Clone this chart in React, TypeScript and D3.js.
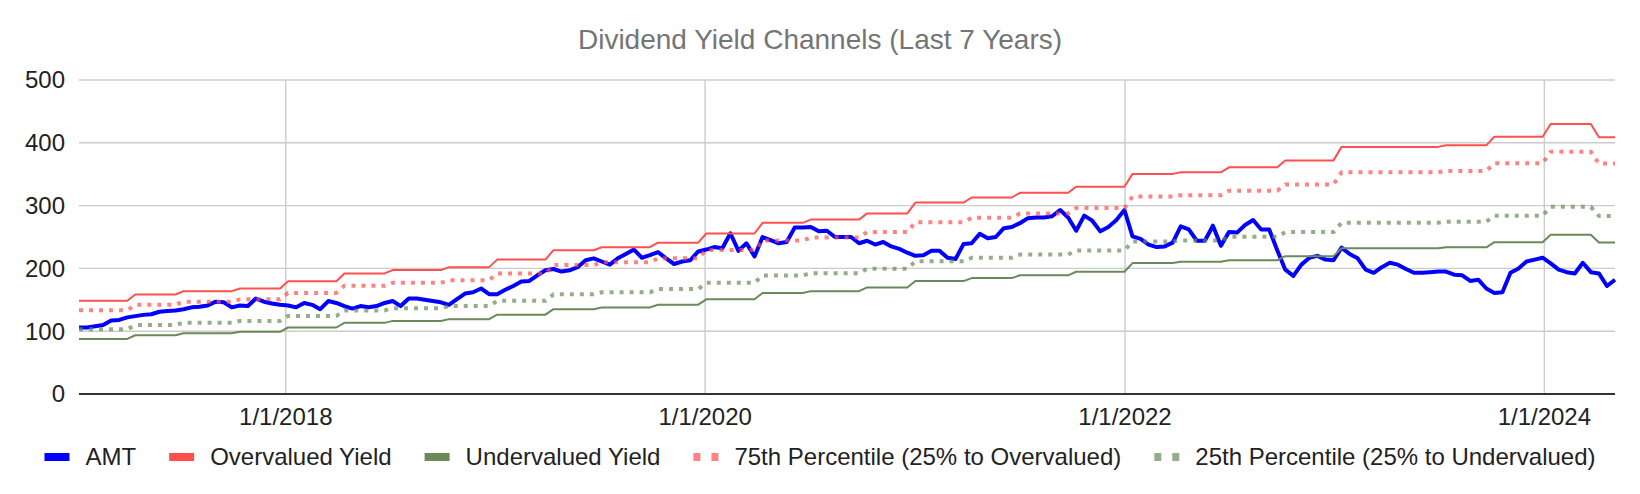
import { useEffect, useRef } from 'react';
import * as d3 from 'd3';

// AMT price, one close every two weeks starting on this date
const startDate = '2017-01-06';
const amt2017 = [106, 106, 108, 110, 117, 118, 122, 124, 126, 127, 131, 132, 133, 135, 138, 139, 141, 147, 146, 138, 141, 140, 152, 147, 144, 142];
const amt2018 = [141, 138, 145, 142, 135, 148, 145, 140, 136, 140, 138, 140, 145, 148, 140, 152, 152, 150, 148, 146, 142, 151, 160, 162, 168, 159];
const amt2019 = [159, 166, 172, 179, 180, 189, 197, 199, 195, 197, 202, 213, 216, 211, 206, 216, 223, 230, 217, 221, 226, 216, 207, 211, 213, 227];
const amt2020 = [230, 234, 232, 256, 228, 240, 219, 250, 245, 240, 242, 265, 265, 266, 259, 260, 250, 250, 250, 240, 244, 238, 242, 235, 231, 225];
const amt2021 = [220, 221, 228, 228, 217, 215, 239, 240, 255, 248, 250, 264, 266, 272, 280, 281, 281, 283, 293, 281, 260, 284, 276, 259, 266, 277, 293];
const amt2022 = [251, 247, 238, 234, 235, 241, 267, 262, 244, 244, 268, 236, 258, 257, 269, 277, 262, 262, 229, 198, 188, 206, 217, 220, 214, 213];
const amt2023 = [233, 223, 216, 198, 193, 202, 209, 206, 199, 193, 193, 194, 195, 195, 190, 189, 180, 182, 168, 161, 162, 193, 200, 211, 214, 217];
const amt2024 = [208, 198, 194, 192, 209, 194, 192, 172, 182];
const amtValues = [...amt2017, ...amt2018, ...amt2019, ...amt2020, ...amt2021, ...amt2022, ...amt2023, ...amt2024];

// channel levels, each one holds from its date until the next
const stepDates = [
  '2017-01-06', '2017-04-14', '2017-07-07', '2017-10-13', '2018-01-05', '2018-04-13', '2018-07-06', '2018-10-12',
  '2019-01-04', '2019-04-12', '2019-07-05', '2019-10-11', '2020-01-03', '2020-04-10', '2020-07-03', '2020-10-09',
  '2021-01-01', '2021-04-09', '2021-07-02', '2021-10-08', '2022-01-14', '2022-04-08', '2022-07-01', '2022-10-07',
  '2023-01-13', '2023-07-14', '2023-10-06', '2024-01-12', '2024-04-05',
];
const overvalued = [148.6, 158.4, 163.8, 168, 179.5, 192, 197.3, 202, 214, 229, 233.7, 241, 255.6, 272.5, 277.7, 287.6, 304.8, 312.9, 320.4, 330, 350.5, 353, 361, 372, 393.5, 396, 409.7, 430, 409];
const undervalued = [87.7, 93.5, 96.6, 99.1, 105.9, 113.3, 116.4, 119.2, 126.3, 135.1, 137.9, 142.2, 150.8, 160.8, 163.8, 169.7, 179.8, 184.6, 189, 194.7, 208.5, 210.5, 213, 219.5, 232.2, 233.6, 241.7, 253.7, 241.3];
const pct75 = [133.3, 142.1, 146.9, 150.7, 161, 172.2, 177, 181.2, 192, 205.4, 209.6, 216.2, 229.3, 244.4, 249.1, 258, 273.4, 280.7, 287.4, 296, 314.4, 316.6, 323.8, 333.7, 353, 355.2, 367.5, 385.7, 366.9];
const pct25 = [103, 109.8, 113.5, 116.4, 124.4, 133.1, 136.7, 140, 148.3, 158.7, 162, 167, 177.1, 188.8, 192.4, 199.3, 211.2, 216.8, 222, 228.7, 242.9, 244.6, 250.2, 257.8, 272.7, 274.4, 283.9, 298, 283.4];

const yTicks = [0, 100, 200, 300, 400, 500];
const xTicks = ['2018-01-01', '2020-01-01', '2022-01-01', '2024-01-01'];

const width = 1640;
const height = 494;
const font = 'Arial, "Liberation Sans", sans-serif';

export default function App() {
  const svgRef = useRef<SVGSVGElement>(null);

  useEffect(() => {
    if (!svgRef.current) return;
    const svg = d3.select(svgRef.current);
    svg.selectAll('*').remove();

    const parse = d3.timeParse('%Y-%m-%d');
    const start = parse(startDate)!;
    const dates = amtValues.map((_, i) => d3.timeDay.offset(start, i * 14));
    const steps = stepDates.map(s => parse(s)!);
    const levelAt = (d: Date) => d3.bisectRight(steps, d) - 1;

    const x = d3.scaleTime()
      .domain([dates[0], dates[dates.length - 1]])
      .range([79, 1615]);
    const y = d3.scaleLinear().domain([0, 500]).range([394, 80]);

    svg.append('rect').attr('width', width).attr('height', height).attr('fill', '#fff');

    svg.append('text')
      .attr('x', width / 2)
      .attr('y', 48.5)
      .attr('text-anchor', 'middle')
      .style('font-family', font)
      .style('font-size', '28px')
      .style('fill', '#757575')
      .text('Dividend Yield Channels (Last 7 Years)');

    // gridlines
    svg.append('g')
      .selectAll('line')
      .data(yTicks.filter(t => t > 0))
      .join('line')
      .attr('x1', 79).attr('x2', 1615)
      .attr('y1', d => y(d)).attr('y2', d => y(d))
      .attr('stroke', '#cccccc').attr('stroke-width', 1.4);

    svg.append('g')
      .selectAll('line')
      .data(xTicks.map(t => parse(t)!))
      .join('line')
      .attr('x1', d => x(d)).attr('x2', d => x(d))
      .attr('y1', y(500)).attr('y2', y(0))
      .attr('stroke', '#cccccc').attr('stroke-width', 1.4);

    svg.append('g')
      .selectAll('text')
      .data(yTicks)
      .join('text')
      .attr('x', 65)
      .attr('y', d => y(d))
      .attr('dy', '0.35em')
      .attr('text-anchor', 'end')
      .style('font-family', font)
      .style('font-size', '24px')
      .style('fill', '#222')
      .text(d => d);

    const fmt = d3.timeFormat('%-m/%-d/%Y');
    svg.append('g')
      .selectAll('text')
      .data(xTicks.map(t => parse(t)!))
      .join('text')
      .attr('x', d => x(d))
      .attr('y', 425)
      .attr('text-anchor', 'middle')
      .style('font-family', font)
      .style('font-size', '24px')
      .style('fill', '#222')
      .text(d => fmt(d));

    const pts = dates.map((d, i) => ({ date: d, amt: amtValues[i], k: levelAt(d) }));
    type Pt = typeof pts[0];

    const series = [
      { label: 'AMT', color: '#0000ff', width: 4, dash: null, opacity: 1, get: (p: Pt) => p.amt },
      { label: 'Overvalued Yield', color: '#ff4f4f', width: 2, dash: null, opacity: 1, get: (p: Pt) => overvalued[p.k] },
      { label: 'Undervalued Yield', color: '#6a8a5a', width: 2, dash: null, opacity: 1, get: (p: Pt) => undervalued[p.k] },
      { label: '75th Percentile (25% to Overvalued)', color: '#ff4f4f', width: 4, dash: '4 6', opacity: 0.7, get: (p: Pt) => pct75[p.k] },
      { label: '25th Percentile (25% to Undervalued)', color: '#6a8a5a', width: 4, dash: '4 6', opacity: 0.7, get: (p: Pt) => pct25[p.k] },
    ];

    series.forEach(s => {
      const line = d3.line<Pt>()
        .x(p => x(p.date))
        .y(p => y(s.get(p)));
      svg.append('path')
        .datum(pts)
        .attr('d', line)
        .attr('fill', 'none')
        .attr('stroke', s.color)
        .attr('stroke-width', s.width)
        .attr('stroke-opacity', s.opacity)
        .attr('stroke-linejoin', 'round')
        .attr('stroke-dasharray', s.dash);
    });

    // baseline
    svg.append('line')
      .attr('x1', 79).attr('x2', 1615)
      .attr('y1', y(0)).attr('y2', y(0))
      .attr('stroke', '#333').attr('stroke-width', 2);

    // legend, centred under the plot
    const legend = svg.append('g');
    let cursor = 0;
    series.forEach(s => {
      const item = legend.append('g').attr('transform', `translate(${cursor},0)`);
      item.append('line')
        .attr('x1', 0).attr('x2', 25)
        .attr('y1', 0).attr('y2', 0)
        .attr('stroke', s.color)
        .attr('stroke-opacity', s.opacity)
        .attr('stroke-width', 8)
        .attr('stroke-dasharray', s.dash ? '7 11' : null);
      const t = item.append('text')
        .attr('x', 41)
        .attr('y', 0)
        .attr('dy', '0.35em')
        .style('font-family', font)
        .style('font-size', '24px')
        .style('fill', '#222')
        .text(s.label);
      const tw = (t.node() as SVGTextElement).getComputedTextLength();
      cursor += 41 + tw + 33;
    });
    const total = cursor - 33;
    legend.attr('transform', `translate(${(width - total) / 2},457)`);
  }, []);

  return (
    <>
      <style>{'body{margin:0}'}</style>
      <svg ref={svgRef} width={width} height={height} style={{ display: 'block' }} />
    </>
  );
}
